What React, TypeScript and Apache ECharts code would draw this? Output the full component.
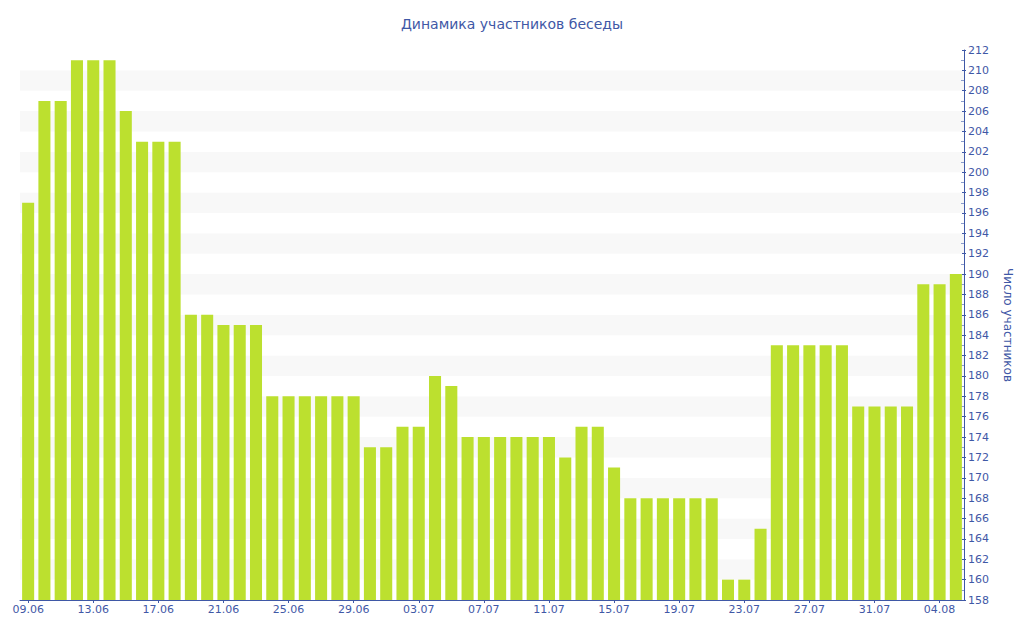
import React, { useEffect, useRef } from "react";
import * as echarts from "echarts";

const categories = [
  "09.06","10.06","11.06","12.06","13.06","14.06","15.06","16.06","17.06","18.06",
  "19.06","20.06","21.06","22.06","23.06","24.06","25.06","26.06","27.06","28.06",
  "29.06","30.06","01.07","02.07","03.07","04.07","05.07","06.07","07.07","08.07",
  "09.07","10.07","11.07","12.07","13.07","14.07","15.07","16.07","17.07","18.07",
  "19.07","20.07","21.07","22.07","23.07","24.07","25.07","26.07","27.07","28.07",
  "29.07","30.07","31.07","01.08","02.08","03.08","04.08","05.08",
];

const members = [
  197, 207, 207, 211, 211, 211, 206, 203, 203, 203,
  186, 186, 185, 185, 185, 178, 178, 178, 178, 178,
  178, 173, 173, 175, 175, 180, 179, 174, 174, 174,
  174, 174, 174, 172, 175, 175, 171, 168, 168, 168,
  168, 168, 168, 160, 160, 165, 183, 183, 183, 183,
  183, 177, 177, 177, 177, 189, 189, 190,
];

const Y_MIN = 158;
const Y_MAX = 212;
const Y_STEP = 2;

const BLUE = "#3f58a6";
const FONT = "DejaVu Sans";

export default function App() {
  const ref = useRef<HTMLDivElement>(null);
  useEffect(() => {
    if (!ref.current) return;
    const chart = echarts.init(ref.current, undefined, { renderer: "svg" });
    chart.setOption({
      animation: false,
      title: {
        text: "Динамика участников беседы",
        left: "center",
        top: 12,
        textStyle: { color: BLUE, fontFamily: FONT, fontSize: 14, fontWeight: "normal" },
      },
      grid: { left: 20, right: 60, top: 50, bottom: 40 },
      xAxis: {
        type: "category",
        data: categories,
        axisLine: { lineStyle: { color: BLUE, width: 1 } },
        axisTick: { show: true, interval: 3, alignWithLabel: true, length: 3, lineStyle: { color: BLUE } },
        axisLabel: { interval: 3, color: BLUE, fontFamily: FONT, fontSize: 11, margin: 4 },
      },
      yAxis: [
        {
          type: "value",
          position: "right",
          min: Y_MIN,
          max: Y_MAX,
          interval: Y_STEP,
          name: "Число участников",
          nameLocation: "middle",
          nameRotate: -90,
          nameGap: 38,
          nameTextStyle: { color: BLUE, fontFamily: FONT, fontSize: 12 },
          axisLine: { show: true, lineStyle: { color: BLUE } },
          axisTick: { show: true, length: 2, lineStyle: { color: BLUE } },
          axisLabel: { color: BLUE, fontFamily: FONT, fontSize: 11, margin: 4 },
          splitLine: { show: false },
          splitArea: { show: true, areaStyle: { color: ["#ffffff", "#f8f8f8"] } },
        },
        {
          type: "value",
          position: "right",
          min: Y_MIN,
          max: Y_MAX,
          interval: Y_STEP,
          axisLine: { show: false },
          axisTick: { show: true, inside: true, length: 2, lineStyle: { color: BLUE } },
          minorTick: { show: true, splitNumber: 2, length: 3, lineStyle: { color: "#8a9ccc" } },
          axisLabel: { show: false },
          splitLine: { show: false },
        },
      ],
      series: [
        {
          type: "bar",
          data: members,
          yAxisIndex: 0,
          barCategoryGap: "26%",
          itemStyle: { color: "#bce02f" },
        },
      ],
    });
    return () => chart.dispose();
  }, []);
  return <div ref={ref} style={{ width: 1024, height: 640, margin: -8 }} />;
}
